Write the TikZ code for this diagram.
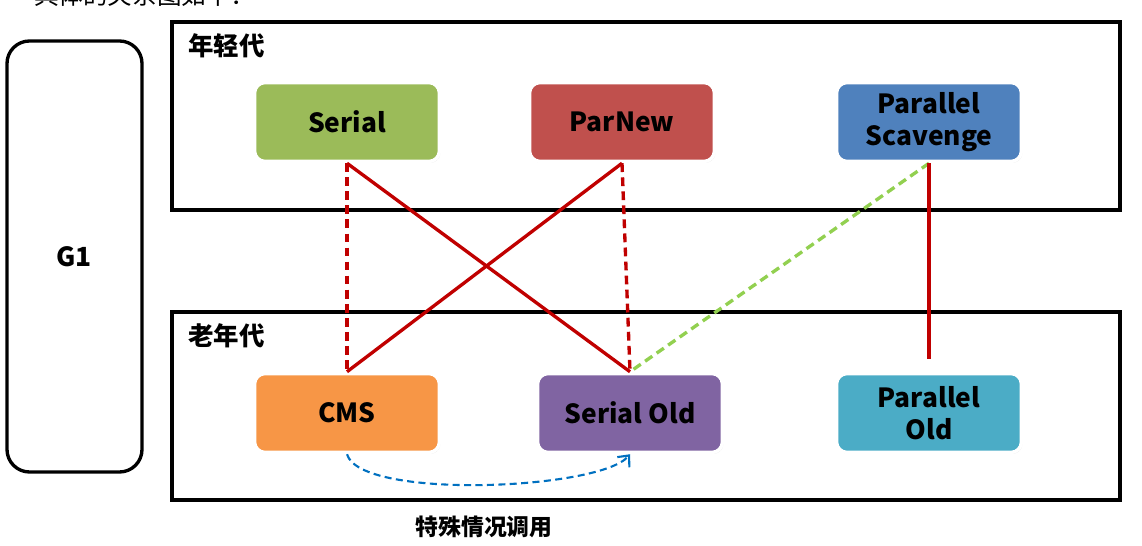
\documentclass[tikz,border=0pt]{standalone}
\usepackage{fontspec}
\setmainfont{Noto Sans CJK SC}
\usetikzlibrary{arrows.meta,shadows}
\definecolor{gcgreen}{HTML}{9BBB59}
\definecolor{gcred}{HTML}{C0504D}
\definecolor{gcblue}{HTML}{4F81BD}
\definecolor{gcorange}{HTML}{F79646}
\definecolor{gcpurple}{HTML}{8064A2}
\definecolor{gcteal}{HTML}{4BACC6}
\definecolor{linkred}{HTML}{C00000}
\definecolor{linkgreen}{HTML}{92D050}
\definecolor{linkblue}{HTML}{0070C0}
\tikzset{
  gcbox/.style={draw=white,line width=2pt,rounded corners=6pt,minimum width=3.7cm,
    minimum height=1.58cm,align=center,font=\fontsize{15}{18}\selectfont\bfseries,
    drop shadow={shadow xshift=0.6pt,shadow yshift=-0.8pt,opacity=0.35}},
  genframe/.style={draw,line width=1.9pt},
  link/.style={draw=linkred,line width=1.9pt},
  dlink/.style={link,dash pattern=on 5pt off 3pt},
}
\begin{document}
\begin{tikzpicture}[x=0.02cm,y=-0.02cm]
	  \useasboundingbox (0,0) rectangle (1142,546);
	  \node[anchor=west,font=\fontsize{14}{16}\selectfont] (intro) at (28,-5) {具体的关系图如下：};
	  % G1 and the two generations
	  \draw[line width=1.9pt,rounded corners=0.45cm] (7,41) rectangle (142,472);
	  \node[font=\fontsize{15}{17}\selectfont\bfseries] (g1) at (74,257) {G1};
	  \draw[genframe] (172,22) rectangle (1120,210);
	  \draw[genframe] (172,312) rectangle (1120,500);
	  \node[anchor=west,font=\fontsize{14.5}{16}\selectfont\bfseries] (young) at (182,46) {年轻代};
	  \node[anchor=west,font=\fontsize{14.5}{16}\selectfont\bfseries] (old) at (182,336) {老年代};
	  % collectors
	  \node[gcbox,fill=gcgreen] (serial) at (347,122) {Serial};
	  \node[gcbox,fill=gcred] (parnew) at (622,122) {ParNew};
	  \node[gcbox,fill=gcblue] (ps) at (929,122) {Parallel\\Scavenge};
	  \node[gcbox,fill=gcorange] (cms) at (347,413) {CMS};
	  \node[gcbox,fill=gcpurple] (serialold) at (630,413) {Serial Old};
	  \node[gcbox,fill=gcteal] (pold) at (929,413) {Parallel\\Old};
	  % links
	  \draw[dlink] (serial.south) -- (cms.north);
	  \draw[link] (serial.south) -- (serialold.north);
	  \draw[link] (parnew.south) -- (cms.north);
	  \draw[dlink] (parnew.south) -- (serialold.north);
	  \draw[dlink,draw=linkgreen] (ps.south) -- (serialold.north);
	  \draw[link,shorten >=7pt] (ps.south) -- (pold.north);
	  \draw[draw=linkblue,line width=1.2pt,dash pattern=on 4pt off 2.5pt,
	    -{Straight Barb[length=5pt,width=9pt]}]
	    (cms.south) .. controls (360,500) and (600,490) .. (serialold.south);
	  \node[font=\fontsize{13}{15}\selectfont\bfseries] (special) at (484,527) {特殊情况调用};
	\end{tikzpicture}
\end{document}
